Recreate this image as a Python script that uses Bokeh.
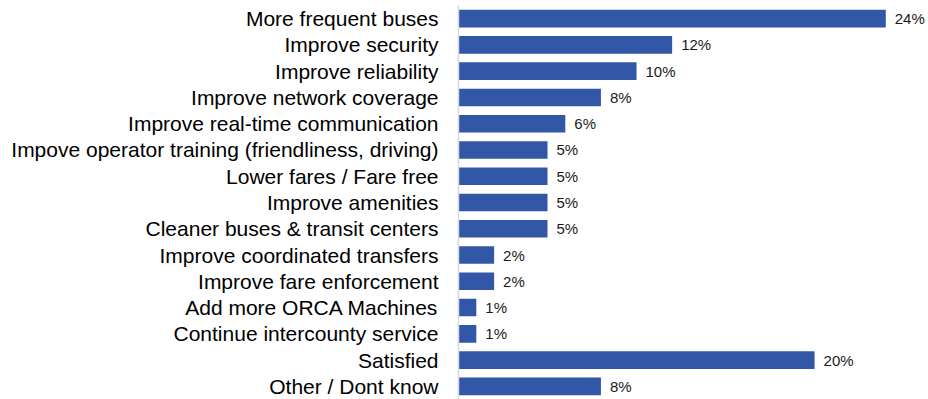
from bokeh.plotting import figure
from bokeh.models import ColumnDataSource, FactorRange, Range1d
from bokeh.core.properties import value
from bokeh.embed import file_html
from bokeh.resources import INLINE

# Suggested improvements, in the order they are listed (top to bottom)
categories = [
    "More frequent buses",
    "Improve security",
    "Improve reliability",
    "Improve network coverage",
    "Improve real-time communication",
    "Impove operator training (friendliness, driving)",
    "Lower fares / Fare free",
    "Improve amenities",
    "Cleaner buses & transit centers",
    "Improve coordinated transfers",
    "Improve fare enforcement",
    "Add more ORCA Machines",
    "Continue intercounty service",
    "Satisfied",
    "Other / Dont know",
]
percent = [24, 12, 10, 8, 6, 5, 5, 5, 5, 2, 2, 1, 1, 20, 8]
value_labels = [f"{v}%" for v in percent]

FONT = "Liberation Sans"
BAR_COLOR = "#3357a7"

source = ColumnDataSource(dict(cat=categories, pct=percent, lbl=value_labels))

p = figure(
    width=928,
    height=399,
    y_range=FactorRange(*reversed(categories), range_padding=0),
    x_range=Range1d(0, 26.4),
    output_backend="svg",
    toolbar_location=None,
    min_border_left=458,
    min_border_right=0,
    min_border_top=5,
    min_border_bottom=0,
)

p.hbar(y="cat", right="pct", left=0, height=0.67, source=source,
       fill_color=BAR_COLOR, line_color=None)

p.text(x="pct", y="cat", text="lbl", source=source,
       x_offset=9, text_align="left", text_baseline="middle",
       text_font=value(FONT), text_font_size="15px", text_color="#1a1a1a")

# Category axis: light rule on the left, no ticks
p.yaxis.axis_line_color = "#d9d9d9"
p.yaxis.axis_line_width = 1.5
p.yaxis.major_tick_line_color = None
p.yaxis.minor_tick_line_color = None
p.yaxis.major_tick_out = 0
p.yaxis.major_label_standoff = 20
p.yaxis.major_label_text_font = FONT
p.yaxis.major_label_text_font_size = "21px"
p.yaxis.major_label_text_color = "#000000"

p.xaxis.visible = False
p.xgrid.grid_line_color = None
p.ygrid.grid_line_color = None
p.outline_line_color = None
p.background_fill_color = "white"
p.border_fill_color = "white"

open("out.html", "w").write(file_html(p, INLINE))
